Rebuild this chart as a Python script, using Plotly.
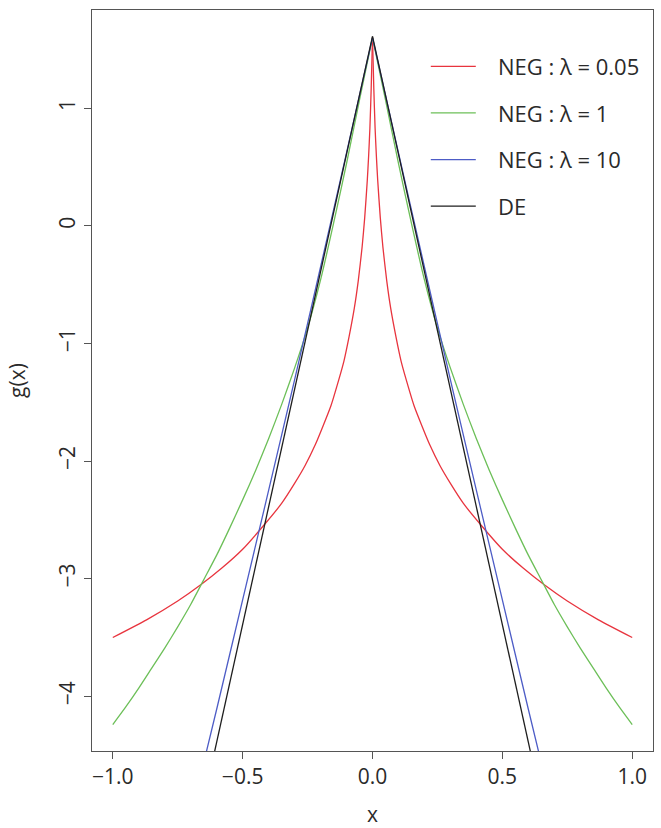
import plotly.graph_objects as go

# Log-density curves g(x) for three NEG shape values and the double exponential
red_x = [-1.0, -0.87, -0.75, -0.66, -0.58, -0.50, -0.42, -0.35, -0.30, -0.26, -0.22, -0.19,
         -0.16, -0.13, -0.11, -0.09, -0.07, -0.055, -0.04, -0.03, -0.02, -0.015, -0.01, -0.005,
         0.0,
         0.005, 0.01, 0.015, 0.02, 0.03, 0.04, 0.055, 0.07, 0.09, 0.11, 0.13, 0.16,
         0.19, 0.22, 0.26, 0.30, 0.35, 0.42, 0.50, 0.58, 0.66, 0.75, 0.87, 1.0]
red_y = [-3.50, -3.35, -3.19, -3.05, -2.91, -2.75, -2.55, -2.36, -2.19, -2.04, -1.86, -1.70,
         -1.53, -1.31, -1.15, -0.94, -0.70, -0.47, -0.18, 0.07, 0.39, 0.59, 0.83, 1.17,
         1.60,
         1.17, 0.83, 0.59, 0.39, 0.07, -0.18, -0.47, -0.70, -0.94, -1.15, -1.31, -1.53,
         -1.70, -1.86, -2.04, -2.19, -2.36, -2.55, -2.75, -2.91, -3.05, -3.19, -3.35, -3.50]

green_x = [-1.0, -0.95, -0.9, -0.85, -0.8, -0.75, -0.7, -0.65, -0.6, -0.55, -0.5, -0.45,
           -0.4, -0.35, -0.3, -0.25, -0.2, -0.15, -0.1, -0.05, 0.0, 0.05, 0.1, 0.15, 0.2,
           0.25, 0.3, 0.35, 0.4, 0.45, 0.5, 0.55, 0.6, 0.65, 0.7, 0.75, 0.8, 0.85, 0.9,
           0.95, 1.0]
green_y = [-4.24, -4.09, -3.93, -3.76, -3.59, -3.41, -3.22, -3.01, -2.80, -2.57, -2.33, -2.08,
           -1.81, -1.52, -1.21, -0.87, -0.46, 0.02, 0.53, 1.07, 1.60, 1.07, 0.53, 0.02, -0.46,
           -0.87, -1.21, -1.52, -1.81, -2.08, -2.33, -2.57, -2.80, -3.01, -3.22, -3.41, -3.59,
           -3.76, -3.93, -4.09, -4.24]

blue_x = [-1.0, -0.9, -0.8, -0.7, -0.6, -0.5, -0.4, -0.3, -0.2, -0.1, 0.0,
          0.1, 0.2, 0.3, 0.4, 0.5, 0.6, 0.7, 0.8, 0.9, 1.0]
blue_y = [-7.68, -6.80, -5.92, -5.02, -4.11, -3.18, -2.25, -1.31, -0.35, 0.62, 1.60,
          0.62, -0.35, -1.31, -2.25, -3.18, -4.11, -5.02, -5.92, -6.80, -7.68]

de_x = [-1.0, 0.0, 1.0]
de_y = [-8.39, 1.61, -8.39]

NB = "\u00a0\u00a0\u00a0"  # gap between legend key line and its label
series = [
    ("NEG : λ = 0.05", red_x, red_y, "#e8343e"),
    ("NEG : λ = 1", green_x, green_y, "#6cbf58"),
    ("NEG : λ = 10", blue_x, blue_y, "#4d5cc6"),
    ("DE", de_x, de_y, "#1e1e1e"),
]

x_ticks = [-1.0, -0.5, 0.0, 0.5, 1.0]
x_ticktext = ["\u22121.0", "\u22120.5", "0.0", "0.5", "1.0"]
y_ticks = [-4, -3, -2, -1, 0, 1]
y_ticktext = ["\u22124", "\u22123", "\u22122", "\u22121", "0", "1"]

FONT = "Open Sans, Noto Sans, sans-serif"
TEXT = "#2a2a2a"
AXIS = "#555555"

fig = go.Figure()
for i, (name, xs, ys, col) in enumerate(series):
    # each curve is drawn as two smooth branches meeting at the cusp x = 0
    k = xs.index(0.0)
    for j, (bx, by) in enumerate([(xs[:k + 1], ys[:k + 1]), (xs[k:], ys[k:])]):
        fig.add_trace(go.Scatter(
            x=bx, y=by, mode="lines", name=NB + name, legendgroup=f"g{i}",
            showlegend=(j == 0),
            line=dict(color=col, width=1.3, shape="spline", smoothing=0.6),
        ))

fig.update_layout(
    width=661, height=828,
    margin=dict(l=92, r=8, t=10, b=77),
    paper_bgcolor="white", plot_bgcolor="white",
    font=dict(family=FONT, size=21, color=TEXT),
    showlegend=True,
    legend=dict(
        x=0.595, y=0.952, xanchor="left", yanchor="top",
        bgcolor="rgba(0,0,0,0)", borderwidth=0,
        font=dict(family=FONT, size=22, color=TEXT),
        itemwidth=45, tracegroupgap=15,
    ),
    xaxis=dict(
        range=[-1.08, 1.08], tickmode="array", tickvals=x_ticks, ticktext=x_ticktext,
        ticks="outside", ticklen=7, tickwidth=1.2, tickcolor=AXIS,
        showline=True, mirror=True, linecolor=AXIS, linewidth=1.3,
        showgrid=False, zeroline=False, automargin=False,
        tickfont=dict(family=FONT, size=21, color=TEXT),
        title=dict(text="x", font=dict(family=FONT, size=21, color=TEXT), standoff=20),
    ),
    yaxis=dict(
        range=[-4.465, 1.835], tickmode="array", tickvals=y_ticks, ticktext=y_ticktext,
        tickangle=-90,
        ticks="outside", ticklen=7, tickwidth=1.2, tickcolor=AXIS,
        showline=True, mirror=True, linecolor=AXIS, linewidth=1.3,
        showgrid=False, zeroline=False, automargin=False,
        tickfont=dict(family=FONT, size=21, color=TEXT),
        title=dict(text="g(x)", font=dict(family=FONT, size=21, color=TEXT), standoff=22),
    ),
)

fig.write_html("out.html")
